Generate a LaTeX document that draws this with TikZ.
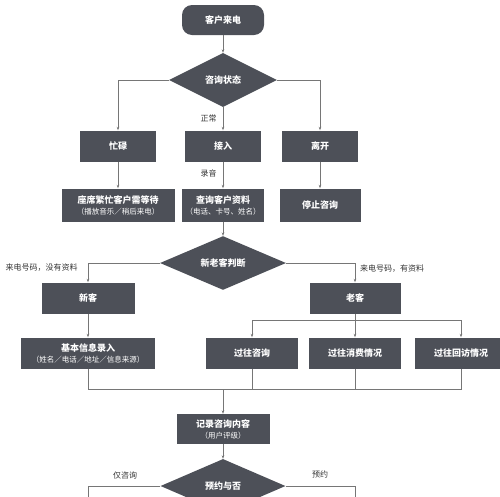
\documentclass[tikz,border=0pt]{standalone}
\usepackage{fontspec}
\newfontfamily\cjk{Noto Sans CJK SC}
\usetikzlibrary{positioning, arrows.meta, shapes.geometric, calc}
\definecolor{boxgray}{HTML}{4D5058}
\definecolor{linegray}{HTML}{767676}
\newcommand{\subline}[1]{{\fontsize{7.5}{8.5}\selectfont\mdseries #1}}

\tikzset{
  stepbox/.style={fill=boxgray, text=white, font=\cjk\bfseries\fontsize{9}{11}\selectfont,
    minimum height=31pt, inner sep=0pt, align=center},
  startbox/.style={stepbox, rounded corners=10pt, minimum width=82pt, minimum height=30pt},
  decide/.style={diamond, fill=boxgray, text=white, font=\cjk\bfseries\fontsize{9}{11}\selectfont,
    inner sep=0pt},
  link/.style={draw=linegray, line width=0.6pt},
  flow/.style={link, -{Stealth[length=3.5pt,width=2.6pt]}},
  tag/.style={font=\cjk\fontsize{8}{9}\selectfont, text=black!80, inner sep=0pt},
}

\begin{document}
\begin{tikzpicture}[x=1pt, y=-1pt]
\useasboundingbox (0,0) rectangle (500,496);
% ---- call comes in
\node[startbox] (call) at (223,20) {客户来电};
\node[decide, minimum width=108pt, minimum height=54pt] (state) at (223,80) {咨询状态};

% ---- three states
\node[stepbox, minimum width=76pt] (busy)   at (118,146) {忙碌};
\node[stepbox, minimum width=76pt] (accept) at (223,146) {接入};
\node[stepbox, minimum width=76pt] (leave)  at (320,146) {离开};

\node[stepbox, minimum width=113pt, minimum height=33pt] (wait)  at (118,205) {座席繁忙客户需等待\\\subline{（播放音乐／稍后来电）}};
\node[stepbox, minimum width=82pt,  minimum height=33pt] (query) at (223,205) {查询客户资料\\\subline{（电话、卡号、姓名）}};
\node[stepbox, minimum width=81pt,  minimum height=33pt] (stop)  at (320,205) {停止咨询};

\draw[flow] (call) -- (state);
\draw[flow] (state.west) -| (busy.north);
\draw[flow] (state.south) -- (accept.north) node[tag, pos=0.5, left=6pt] {正常};
\draw[flow] (state.east) -| (leave.north);
\draw[flow] (busy) -- (wait);
\draw[flow] (accept) -- (query) node[tag, pos=0.45, left=6pt] {录音};
\draw[flow] (leave) -- (stop);

% ---- new or old customer
\node[decide, minimum width=126pt, minimum height=52pt] (judge) at (223,263) {新老客判断};
\node[stepbox, minimum width=93pt] (newc) at (88,298)  {新客};
\node[stepbox, minimum width=91pt] (oldc) at (355,298) {老客};

\draw[flow] (query) -- (judge);
\draw[flow] (judge.west) -| (newc.north);
\draw[flow] (judge.east) -| (oldc.north);
\node[tag] (nolabel)  at (41.5,268) {来电号码，没有资料};
\node[tag] (haslabel) at (392,269)  {来电号码，有资料};

\node[stepbox, minimum width=134pt] (entry) at (88,353)  {基本信息录入\\\subline{（姓名／电话／地址／信息来源）}};
\node[stepbox, minimum width=92pt]  (past1) at (252,353) {过往咨询};
\node[stepbox, minimum width=92pt]  (past2) at (355,353) {过往消费情况};
\node[stepbox, minimum width=92pt]  (past3) at (461,353) {过往回访情况};

\draw[flow] (newc) -- (entry);
\coordinate (split) at (355,320);
\draw[link] (oldc.south) -- (split);
\draw[flow] (split) -| (past1.north);
\draw[flow] (split) -- (past2.north);
\draw[flow] (split) -| (past3.north);

% ---- merge and record
\coordinate (join) at (223,389);
\node[stepbox, minimum width=93pt, minimum height=30pt] (record) at (223,429) {记录咨询内容\\\subline{（用户评级）}};
\draw[link] (entry.south) |- (join);
\draw[link] (past3.south) |- (join);
\draw[link] (past1.south) -- (past1.south |- join);
\draw[link] (past2.south) -- (past2.south |- join);
\draw[flow] (join) -- (record);

% ---- booking
\node[decide, minimum width=125pt, minimum height=54pt] (book) at (223,486) {预约与否};
\draw[flow] (record) -- (book);
\coordinate (onlyend) at (88,505);
\coordinate (bookend) at (355,505);
\draw[link] (book.west) -| (onlyend);
\draw[link] (book.east) -| (bookend);
\node[tag] (onlylabel) at (125,475) {仅咨询};
\node[tag] (booklabel) at (320,474) {预约};
\end{tikzpicture}
\end{document}
